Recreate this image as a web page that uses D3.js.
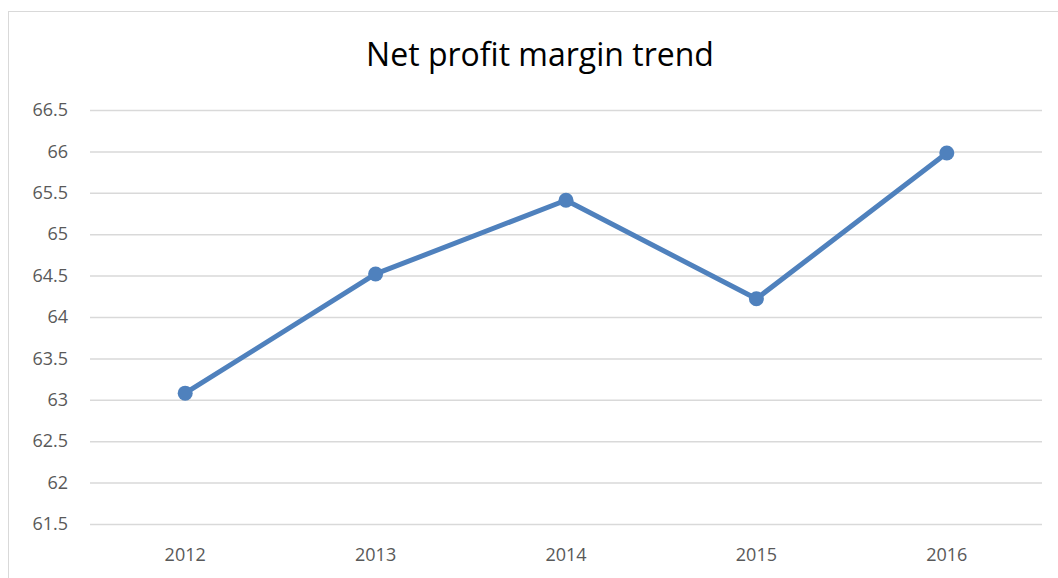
<!DOCTYPE html>
<html>
<head>
<meta charset="utf-8">
<script src="https://cdn.jsdelivr.net/npm/d3@7"></script>
<style>
  body { margin: 0; background: #fff; }
  svg { display: block; font-family: "Open Sans", "Noto Sans", sans-serif; }
</style>
</head>
<body>
<svg width="1058" height="578"></svg>
<script>
const years = ["2012", "2013", "2014", "2015", "2016"];
const margins = [63.08, 64.52, 65.41, 64.22, 65.98];
const yTicks = [61.5, 62, 62.5, 63, 63.5, 64, 64.5, 65, 65.5, 66, 66.5];

const svg = d3.select("svg");
const margin = { top: 110, right: 16, bottom: 54, left: 90 };
const width = +svg.attr("width") - margin.left - margin.right;
const height = +svg.attr("height") - margin.top - margin.bottom;

// chart frame
svg.append("rect")
    .attr("x", 8.5).attr("y", 11.5)
    .attr("width", 1070).attr("height", 600)
    .attr("fill", "none")
    .attr("stroke", "#d9d9d9");

svg.append("text")
    .attr("x", 540).attr("y", 66)
    .attr("text-anchor", "middle")
    .attr("font-size", 32)
    .attr("fill", "#000")
    .text("Net profit margin trend");

const x = d3.scaleBand().domain(years).range([0, width]);
const y = d3.scaleLinear().domain([61.5, 66.5]).range([height, 0]);

const g = svg.append("g").attr("transform", `translate(${margin.left},${margin.top})`);

// 가로 격자선
g.append("g")
    .call(d3.axisLeft(y).tickValues(yTicks).tickSize(-width).tickPadding(22)
        .tickFormat(d => d3.format("")(d)))
    .call(a => a.select(".domain").remove())
    .call(a => a.selectAll("line").attr("stroke", "#d9d9d9").attr("stroke-width", 1.5))
    .call(a => a.selectAll("text").attr("fill", "#595959").attr("font-size", 18)
        .attr("font-family", "Open Sans, sans-serif"));

// x 축
g.append("g")
    .attr("transform", `translate(0,${height})`)
    .call(d3.axisBottom(x).tickSize(0).tickPadding(24))
    .call(a => a.select(".domain").remove())
    .call(a => a.selectAll("text").attr("fill", "#595959").attr("font-size", 18)
        .attr("font-family", "Open Sans, sans-serif"));

const cx = d => x(d) + x.bandwidth() / 2;

g.append("path")
    .datum(margins)
    .attr("fill", "none")
    .attr("stroke", "#4f81bd")
    .attr("stroke-width", 5)
    .attr("stroke-linejoin", "round")
    .attr("d", d3.line().x((_, i) => cx(years[i])).y(d => y(d)));

g.selectAll("circle")
    .data(margins)
    .enter()
    .append("circle")
    .attr("cx", (_, i) => cx(years[i]))
    .attr("cy", d => y(d))
    .attr("r", 7.5)
    .attr("fill", "#4f81bd");
</script>
</body>
</html>
